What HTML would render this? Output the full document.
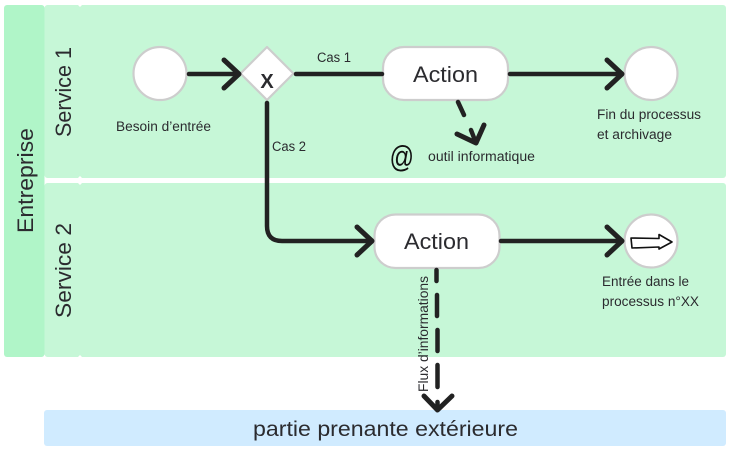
<!DOCTYPE html>
<html><head><meta charset="utf-8"><style>
html,body{margin:0;padding:0;background:#fff;width:732px;height:450px;overflow:hidden}
svg{display:block}
text{font-family:"Liberation Sans",sans-serif;fill:#2b2b2f}
.l{fill:none;stroke:#222;stroke-width:4.5;stroke-linecap:round;stroke-linejoin:round}
.h{stroke-width:5}
.n{fill:#fff;stroke:#cdcdcd;stroke-width:2.2}
</style></head><body>
<svg width="732" height="450" viewBox="0 0 732 450" xmlns="http://www.w3.org/2000/svg">
<rect x="4" y="5" width="40.500" height="352" rx="3" fill="#b0f5c8"/>
<rect x="44.500" y="5" width="681.500" height="173" rx="3" fill="#c6f7d7"/>
<rect x="44.500" y="183" width="681.500" height="174" rx="3" fill="#c6f7d7"/>
<rect x="44" y="410" width="682" height="36" rx="3" fill="#d0ebff"/>
<path fill="#fff" d="M78 5 H82 L80 7 Z M78 178 H82 L80 176 Z M78 183 H82 L80 185 Z M78 357 H82 L80 355 Z M43 357 H46 L44.500 355 Z"/>
<text transform="translate(33,233) rotate(-90)" font-size="22" textLength="105" lengthAdjust="spacingAndGlyphs">Entreprise</text>
<text transform="translate(71,137) rotate(-90)" font-size="22" textLength="90" lengthAdjust="spacingAndGlyphs">Service 1</text>
<text transform="translate(71,318) rotate(-90)" font-size="22" textLength="95" lengthAdjust="spacingAndGlyphs">Service 2</text>

<circle class="n" cx="160" cy="73.500" r="26.500"/>
<path class="n" d="M267 47 L293.500 73.500 L267 100 L240.500 73.500 Z" stroke-linejoin="round"/>
<text x="267" y="88" font-size="20" font-weight="700" text-anchor="middle">X</text>
<rect class="n" x="383" y="47" width="125" height="53" rx="21"/>
<text x="445.500" y="82" font-size="22.500" text-anchor="middle" textLength="65" lengthAdjust="spacingAndGlyphs">Action</text>
<circle class="n" cx="651" cy="73.500" r="26.500"/>
<rect class="n" x="374.500" y="214.500" width="125" height="53.500" rx="21"/>
<text x="436.500" y="249" font-size="22.500" text-anchor="middle" textLength="65" lengthAdjust="spacingAndGlyphs">Action</text>
<circle class="n" cx="651" cy="241" r="26.500"/>

<path class="l" d="M189 74 H238"/>
<path class="l h" d="M224 60 L239 74 L224 88"/>
<path class="l" d="M296 74 H382"/>
<path class="l" d="M510 74 H620"/>
<path class="l h" d="M607 60 L622 74 L607 88"/>
<path class="l" d="M267 103 V226 Q267 241 282 241 H370"/>
<path class="l h" d="M357 227 L372 241 L357 255"/>
<path class="l" d="M501 241 H620"/>
<path class="l h" d="M607 227 L622 241 L607 255"/>
<path class="l" d="M458 102 L464 115 M471 130 L476 143"/>
<path class="l h" d="M457 134 L476 143 L484 125"/>
<path class="l" d="M436.500 270 V281 M437 295 V316 M437.500 330 V351 M437.500 365 V387 M437.500 402 V410"/>
<path class="l h" d="M424 396 L437.500 410 L452 396"/>

<path d="M631 238 L659 238.500 L659 234.500 L672 242 L659 249 L659 247 L632 248 Z" fill="#fff" stroke="#111" stroke-width="1.600" stroke-linejoin="round"/>
<text transform="translate(389.500,167) scale(.78,1)" font-size="31" style="fill:#111">@</text>

<text x="116" y="131" font-size="13.500" textLength="95" lengthAdjust="spacingAndGlyphs">Besoin d’entrée</text>
<text x="317" y="62" font-size="13.500" textLength="34" lengthAdjust="spacingAndGlyphs">Cas 1</text>
<text x="272" y="151" font-size="13.500" textLength="34" lengthAdjust="spacingAndGlyphs">Cas 2</text>
<text x="428" y="161" font-size="13.500" textLength="107" lengthAdjust="spacingAndGlyphs">outil informatique</text>
<text x="597" y="119" font-size="13.500" textLength="104" lengthAdjust="spacingAndGlyphs">Fin du processus</text>
<text x="597" y="139" font-size="13.500" textLength="75" lengthAdjust="spacingAndGlyphs">et archivage</text>
<text x="602" y="286" font-size="13.500" textLength="87" lengthAdjust="spacingAndGlyphs">Entrée dans le</text>
<text x="602" y="306" font-size="13.500" textLength="97" lengthAdjust="spacingAndGlyphs">processus n°XX</text>
<text transform="translate(428,392) rotate(-90)" font-size="13.500" textLength="116" lengthAdjust="spacingAndGlyphs">Flux d’informations</text>
<text x="385.500" y="436" font-size="21.500" text-anchor="middle" textLength="265" lengthAdjust="spacingAndGlyphs">partie prenante extérieure</text>
</svg>
</body></html>
